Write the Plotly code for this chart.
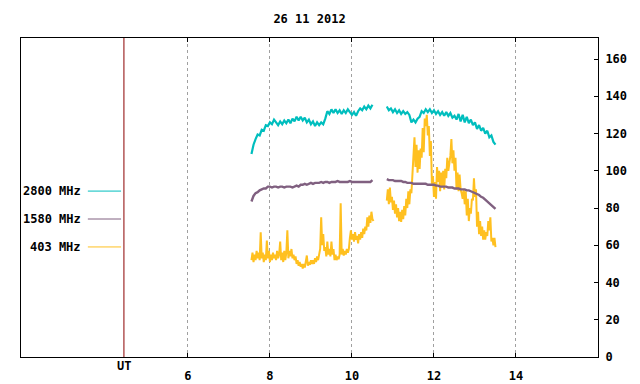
import numpy as np
import plotly.graph_objects as go

title_text = "26 11 2012"
series_names = ["2800 MHz", "1580 MHz", "403 MHz"]
series_colors = ["#00BEBE", "#806080", "#FFC020"]
x_tick_vals = [6, 8, 10, 12, 14]
y_tick_vals = [0, 20, 40, 60, 80, 100, 120, 140, 160]
ut_label = "UT"
ut_position = 4.44

# sampling starts (UT hours) of the two observing segments
seg_a_start = 7.55
seg_b_start = 10.85

# 2800 MHz (0.05 h steps)
f2800_a = [109, 114, 117, 119.5, 119, 122, 121.5, 124.5, 124, 126,
           125, 127.5, 126, 124.5, 126.5, 125, 127, 125.5, 127.5, 125.5,
           128, 126.5, 129, 127, 129, 127, 128.5, 126, 127.5, 125,
           126.5, 124, 126, 124.5, 126, 125, 128, 132, 130.5, 133,
           131, 133, 131, 132.5, 130.5, 132.5, 131, 133, 131.5, 130,
           131.5, 129.5, 132, 133.5, 132.5, 134.5, 133, 135, 133.5, 135.5]
f2800_b = [134.5, 132.5, 133.5, 131.5, 133, 131, 132.5, 130.5, 132, 130.5,
           131.5, 130, 126, 127.5, 126, 128, 129, 132, 131, 133,
           131.5, 133, 131, 132.5, 130.5, 132, 130, 131.5, 129.5, 131.5,
           129.5, 131, 128.5, 129.5, 127.5, 130.5, 126.5, 130, 126, 129,
           125.5, 127.5, 124.5, 126, 122.5, 124.5, 121.5, 123, 120, 121.5,
           118, 119, 115.5, 114]

# 1580 MHz (0.05 h steps)
f1580_a = [83.5, 86.5, 88, 88.5, 89.5, 90, 90.5, 90.5, 91.5, 91.5,
           91, 91.5, 91.5, 91, 91.5, 91.5, 91, 91.5, 91.5, 91.5,
           91, 91.5, 92, 91.5, 92.5, 92.5, 93, 92.5, 93, 93.5,
           93, 93.5, 93.5, 93.5, 94, 93.5, 94, 94, 93.5, 94,
           94, 94, 94.5, 94, 94, 94, 94, 94, 94.5, 94,
           94, 94, 94, 94, 94, 94, 94, 94, 94, 95]
f1580_b = [95.5, 95, 95, 95, 94.5, 94.5, 94.5, 94.5, 94, 94,
           93.5, 93.5, 93.5, 93, 93, 93, 93, 93, 93, 93,
           92.5, 92.5, 92.5, 92.5, 92, 92, 91.5, 91.5, 91.5, 91.5,
           91, 91, 91, 90.5, 90.5, 90.5, 90, 90, 90, 89.5,
           89.5, 89, 88.5, 88, 87.5, 87, 86, 85.5, 84.5, 83.5,
           82.5, 81.5, 80.5, 79.5]

# 403 MHz (0.025 h steps)
f403_a = [52, 56, 51, 55, 52, 57, 53, 56, 52, 67,
          53, 56, 51, 55, 52, 62.5, 53, 57, 51, 55,
          52, 56, 53, 55, 52, 57, 53, 55, 62, 52,
          56, 51, 57, 52, 56, 68, 53, 57, 54, 58,
          53, 55, 52, 54, 50, 52, 49, 51, 48.5, 50,
          47.5, 50, 48, 51, 54.5, 49, 51, 49.5, 52, 50,
          52, 50, 53, 51, 54, 52, 55.5, 58, 75, 60,
          66, 57, 59, 54, 62, 55, 58, 54, 62, 55,
          58, 52, 55, 52, 54, 52.5, 55, 82.5, 55, 58,
          54.5, 57, 55, 58, 56, 58, 64, 68, 63, 66,
          62, 67, 63, 65, 61, 66, 63, 67, 64, 69,
          66, 70, 68, 75, 70, 76, 72, 78, 74, 73]
f403_b = [84, 90, 82, 91, 83, 86, 79, 84, 77, 82,
          75, 80, 73, 78, 72.5, 79, 74, 81, 76, 85,
          80, 89, 82, 90, 88, 100, 104, 118, 102, 114,
          99, 111, 101, 112, 107, 123, 110, 128, 124, 130,
          119, 124, 108, 116, 93, 97, 86, 94, 85, 102,
          94, 100, 89, 99, 91, 100, 90, 101, 96, 107,
          100, 104, 108, 117, 104, 111, 100, 107, 90, 99,
          89, 98, 90, 88, 85, 90, 82, 89, 76, 85,
          73, 80, 77, 85, 84, 96, 86, 90, 70, 78,
          66, 73, 65, 70, 63, 68, 63, 67, 65, 73,
          68, 75, 62, 64, 60, 64, 59]


def joined(start_a, vals_a, start_b, vals_b, step):
    ta = list(np.round(start_a + step * np.arange(len(vals_a)), 4))
    tb = list(np.round(start_b + step * np.arange(len(vals_b)), 4))
    return ta + [None] + tb, list(vals_a) + [None] + list(vals_b)


x2800, y2800 = joined(seg_a_start, f2800_a, seg_b_start, f2800_b, 0.05)
x1580, y1580 = joined(seg_a_start, f1580_a, seg_b_start, f1580_b, 0.05)
x403, y403 = joined(seg_a_start, f403_a, seg_b_start, f403_b, 0.025)

FONT = "DejaVu Sans Mono"
TXT = dict(family=FONT, size=12, color="black", weight="bold")

fig = go.Figure()
fig.add_trace(go.Scatter(x=x403, y=y403, mode="lines", name=series_names[2],
                         line=dict(color=series_colors[2], width=2), connectgaps=False))
fig.add_trace(go.Scatter(x=x1580, y=y1580, mode="lines", name=series_names[1],
                         line=dict(color=series_colors[1], width=2.4), connectgaps=False))
fig.add_trace(go.Scatter(x=x2800, y=y2800, mode="lines", name=series_names[0],
                         line=dict(color=series_colors[0], width=2.2), connectgaps=False))

# UT marker line
fig.add_shape(type="line", xref="x", yref="paper", x0=ut_position, x1=ut_position,
              y0=0, y1=1, line=dict(color="#8B0000", width=1))
fig.add_annotation(x=ut_position, xref="x", y=-0.0, yref="paper", yanchor="top",
                   text=ut_label, showarrow=False, font=TXT)

# custom legend (text left, sample line right)
legend_y = [89.1, 74.1, 59.1]
for name, col, ly in zip(series_names, series_colors, legend_y):
    fig.add_annotation(x=3.43, xref="x", y=ly, yref="y", text=name, showarrow=False,
                       xanchor="right", font=TXT)
    fig.add_shape(type="line", xref="x", yref="y", x0=3.56, x1=4.37, y0=ly, y1=ly,
                  line=dict(color=col, width=1))

fig.update_layout(
    width=640, height=384,
    margin=dict(l=21, r=42, t=38, b=27, autoexpand=False),
    paper_bgcolor="white", plot_bgcolor="white",
    showlegend=False,
    font=TXT,
    title=dict(text=title_text, x=0.4836, xanchor="center", y=0.95, yanchor="middle",
               yref="container", font=TXT),
    xaxis=dict(range=[1.93, 16], tickvals=x_tick_vals, ticktext=[str(v) for v in x_tick_vals],
               showgrid=True, gridcolor="#a0a0a0", griddash="3px,3px", gridwidth=1,
               ticks="inside", ticklen=4, tickcolor="black", showline=True, linecolor="black",
               linewidth=1, mirror="ticks", zeroline=False, ticklabelstandoff=8,
               automargin=False, tickfont=TXT),
    yaxis=dict(range=[0, 171.3], tickvals=y_tick_vals, side="right", showgrid=False,
               ticks="inside", ticklen=4, tickcolor="black", showline=True, linecolor="black",
               linewidth=1, mirror=True, zeroline=False, ticklabelstandoff=4,
               automargin=False, tickfont=TXT),
)

fig.write_html("out.html", config={"displayModeBar": False},
               post_script="document.body.style.margin='0';document.body.style.overflow='hidden';")
